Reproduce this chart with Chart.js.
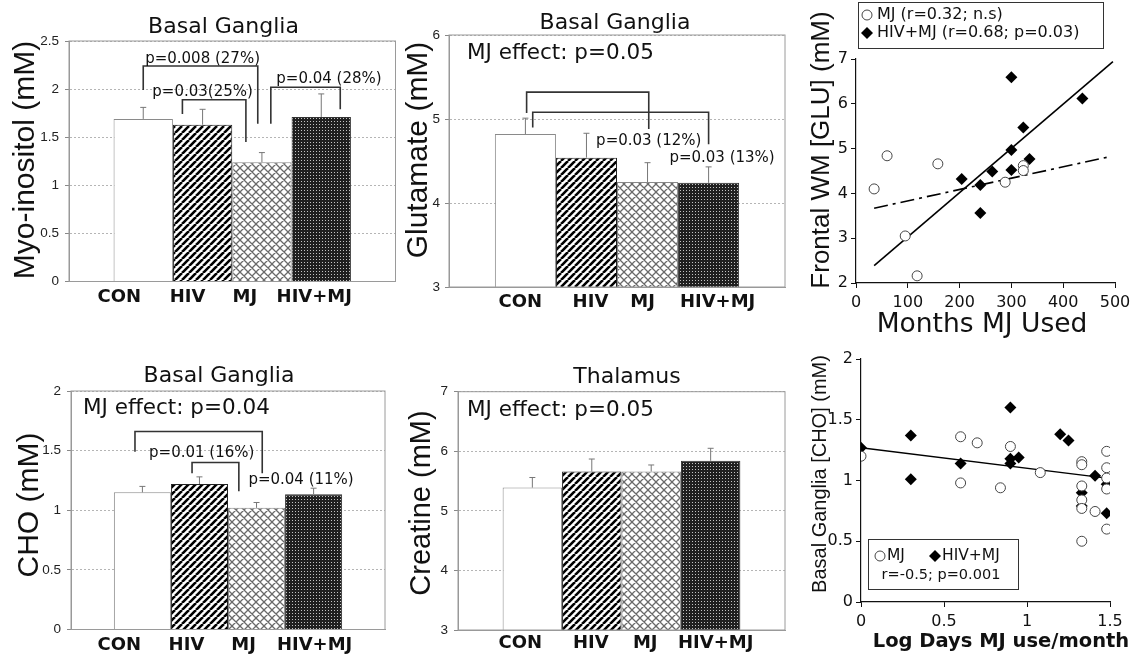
<!DOCTYPE html>
<html>
<head>
<meta charset="utf-8">
<script src="https://cdn.jsdelivr.net/npm/chart.js@4.4.1/dist/chart.umd.min.js"></script>
<style>
  html, body { margin: 0; padding: 0; background: #fff; }
  body { width: 1138px; height: 658px; position: relative; overflow: hidden; }
  canvas { position: absolute; }
</style>
</head>
<body>
<canvas id="myo" width="400" height="320" style="left:0;top:0"></canvas>
<canvas id="glu" width="390" height="320" style="left:400px;top:0"></canvas>
<canvas id="gluScatter" width="348" height="340" style="left:790px;top:0"></canvas>
<canvas id="cho" width="400" height="328" style="left:0;top:330px"></canvas>
<canvas id="cre" width="390" height="328" style="left:400px;top:330px"></canvas>
<canvas id="choScatter" width="348" height="328" style="left:790px;top:330px"></canvas>
<script>
// group bars: mean and top of the (upper only) error bar
const groups = ['CON', 'HIV', 'MJ', 'HIV+MJ'];
const myoMean = [1.69, 1.63, 1.24, 1.71];
const myoErr = [1.81, 1.79, 1.34, 1.95];
const gluMean = [4.82, 4.54, 4.25, 4.24];
const gluErr = [5.01, 4.83, 4.48, 4.43];
const choMean = [1.15, 1.22, 1.02, 1.135];
const choErr = [1.20, 1.28, 1.065, 1.185];
const creMean = [5.39, 5.66, 5.66, 5.84];
const creErr = [5.56, 5.87, 5.77, 6.05];

// frontal WM glutamate vs months of MJ use
const mjMonths = [35, 60, 95, 118, 158, 288, 323, 323];
const mjGlu = [4.10, 4.84, 3.05, 2.16, 4.66, 4.25, 4.62, 4.51];
const hivMonths = [204, 240, 240, 263, 300, 300, 300, 323, 335, 437];
const hivGlu = [4.32, 4.19, 3.56, 4.49, 4.97, 4.52, 6.59, 5.47, 4.77, 6.12];
const gluFitHivX = [35, 496];
const gluFitHivY = [2.39, 6.94];
const gluFitMjX = [35, 490];
const gluFitMjY = [3.67, 4.82];

// basal ganglia choline vs log days of use per month
const mjLogDays = [0, 0.6, 0.7, 0.6, 0.84, 0.9, 1.08, 1.33, 1.33, 1.33, 1.33, 1.33, 1.33, 1.41, 1.48, 1.48, 1.48, 1.48, 1.48];
const mjCho = [1.20, 1.36, 1.31, 0.98, 0.94, 1.28, 1.065, 1.155, 1.13, 0.955, 0.84, 0.77, 0.50, 0.745, 1.24, 1.105, 1.02, 0.93, 0.60];
const hivLogDays = [0, 0.3, 0.3, 0.6, 0.9, 0.9, 0.9, 0.95, 1.2, 1.25, 1.41, 1.33, 1.33, 1.48, 1.48];
const hivCho = [1.27, 1.37, 1.01, 1.14, 1.60, 1.18, 1.14, 1.19, 1.38, 1.33, 1.04, 0.90, 0.79, 0.97, 0.73];
const choFitX = [0, 1.48];
const choFitY = [1.27, 1.02];

// significance brackets: [from bar, y, to bar, y, top y] (bar units, data units)
const myoBrackets = [[0, 1.99, 1.93, 1.64, 2.24], [0.66, 1.74, 1.73, 1.45, 1.89], [2.15, 1.64, 3.32, 1.79, 2.02]];
const myoNotes = [['p=0.008 (27%)', 1.0, 2.31], ['p=0.03(25%)', 1.0, 1.97], ['p=0.04 (28%)', 3.13, 2.1]];
const gluBrackets = [[0.02, 5.07, 2.02, 4.88, 5.32], [0.12, 4.9, 3.0, 4.70, 5.08]];
const gluNotes = [['p=0.03 (12%)', 2.02, 4.74], ['p=0.03 (13%)', 3.22, 4.54]];
const choBrackets = [[-0.13, 1.49, 2.1, 1.31, 1.66], [0.87, 1.31, 1.69, 1.16, 1.40]];
const choNotes = [['p=0.01 (16%)', 1.04, 1.48], ['p=0.04 (11%)', 2.78, 1.255]];

const SANS = "'Liberation Sans', Arial, sans-serif";
const WIDE = "'DejaVu Sans', sans-serif";
Chart.defaults.font.family = SANS;
Chart.defaults.color = '#111';

function makePattern(kind) {
    const c = document.createElement('canvas');
    const g = c.getContext('2d');
    if (kind === 'stripe') {
        const s = 7;
        c.width = c.height = s;
        g.fillStyle = '#fff';
        g.fillRect(0, 0, s, s);
        g.strokeStyle = '#000';
        g.lineWidth = 2.6;
        g.beginPath();
        for (const k of [-s, 0, s]) { g.moveTo(k, s); g.lineTo(k + s, 0); }
        g.stroke();
    } else if (kind === 'hatch') {
        const s = 8;
        c.width = c.height = s;
        g.fillStyle = '#fff';
        g.fillRect(0, 0, s, s);
        g.strokeStyle = '#6a6a6a';
        g.lineWidth = 1.3;
        g.beginPath();
        for (const k of [-s, 0, s]) {
            g.moveTo(k, s); g.lineTo(k + s, 0);
            g.moveTo(k, 0); g.lineTo(k + s, s);
        }
        g.stroke();
    } else {
        c.width = c.height = 3;
        g.fillStyle = '#202020';
        g.fillRect(0, 0, 3, 3);
        g.fillStyle = '#c4c4c4';
        g.fillRect(1, 1, 1, 1);
    }
    return g.createPattern(c, 'repeat');
}

const fills = ['#fff', makePattern('stripe'), makePattern('hatch'), makePattern('dots')];
const edges = ['#8a8a8a', '#222', '#888', '#333'];
const plain = v => String(v);

function text(ctx, s, x, y, font, align) {
    ctx.font = font;
    ctx.fillStyle = '#111';
    ctx.textAlign = align || 'center';
    ctx.textBaseline = 'middle';
    ctx.fillText(s, x, y);
}

function vtext(ctx, s, x, y, font) {
    ctx.save();
    ctx.translate(x, y);
    ctx.rotate(-Math.PI / 2);
    text(ctx, s, 0, 0, font);
    ctx.restore();
}

function boxFit(size, horizontal) {
    return s => {
        if (horizontal) s.height = size; else s.width = size;
        s.paddingLeft = s.paddingRight = s.paddingTop = s.paddingBottom = 0;
    };
}

function barPanel(id, p) {
    const canvas = document.getElementById(id);
    const [L, T, R, B] = p.area;
    const decor = {
        id: 'barDecor',
        afterDatasetsDraw(chart) {
            const ctx = chart.ctx, y = chart.scales.y, a = chart.chartArea;
            const bar0 = chart.getDatasetMeta(0).data[0];
            const xAt = pos => bar0.x + pos * bar0.width;
            ctx.save();
            ctx.lineWidth = 1;
            ctx.strokeStyle = '#777';
            p.err.forEach((v, i) => {
                const el = chart.getDatasetMeta(i).data[0];
                const top = y.getPixelForValue(v);
                ctx.beginPath();
                ctx.moveTo(el.x, el.y);
                ctx.lineTo(el.x, top);
                ctx.moveTo(el.x - 3, top);
                ctx.lineTo(el.x + 3, top);
                ctx.stroke();
            });
            ctx.strokeStyle = '#9a9a9a';
            ctx.strokeRect(a.left, a.top, a.right - a.left, a.bottom - a.top);
            ctx.strokeStyle = '#333';
            ctx.lineWidth = 1.6;
            (p.brackets || []).forEach(([x1, y1, x2, y2, top]) => {
                const t = y.getPixelForValue(top);
                ctx.beginPath();
                ctx.moveTo(xAt(x1), y.getPixelForValue(y1));
                ctx.lineTo(xAt(x1), t);
                ctx.lineTo(xAt(x2), t);
                ctx.lineTo(xAt(x2), y.getPixelForValue(y2));
                ctx.stroke();
            });
            (p.notes || []).forEach(([s, pos, v]) => {
                text(ctx, s, xAt(pos), y.getPixelForValue(v), '15px ' + WIDE);
            });
            groups.forEach((g, i) => {
                const el = chart.getDatasetMeta(i).data[0];
                text(ctx, g, el.x + p.labelShift[i], p.labelY, 'bold 18px ' + WIDE);
            });
            text(ctx, p.title[0], p.title[1], p.title[2], '22px ' + WIDE);
            if (p.effect) text(ctx, p.effect[0], p.effect[1], p.effect[2], '21.5px ' + WIDE, 'left');
            vtext(ctx, p.ytitle[0], p.ytitle[1], p.ytitle[2], p.ytitle[3] + 'px ' + SANS);
            ctx.restore();
        }
    };
    return new Chart(canvas, {
        type: 'bar',
        data: {
            labels: [''],
            datasets: groups.map((g, i) => ({
                label: g,
                data: [p.mean[i]],
                backgroundColor: fills[i],
                borderColor: edges[i],
                borderWidth: 1,
                borderSkipped: 'start',
                barPercentage: 1,
                categoryPercentage: 0.727
            }))
        },
        options: {
            responsive: false,
            animation: false,
            layout: { padding: { left: 0, top: T, right: canvas.width - R, bottom: 0 } },
            plugins: { legend: { display: false }, tooltip: { enabled: false } },
            scales: {
                x: {
                    grid: { display: false },
                    border: { color: '#999' },
                    ticks: { display: false },
                    afterFit: boxFit(canvas.height - B, true)
                },
                y: {
                    min: p.min, max: p.max,
                    ticks: { stepSize: p.step, color: '#222', padding: p.tickPad, callback: plain, font: { size: 13.5, family: SANS } },
                    grid: { color: '#b5b5b5', tickLength: 4, tickColor: '#888' },
                    border: { color: '#999', dash: [2, 2] },
                    afterFit: boxFit(L, false)
                }
            }
        },
        plugins: [decor]
    });
}

function pts(xs, ys) {
    return xs.map((x, i) => ({ x: x, y: ys[i] }));
}

function circle(ctx, x, y, r) {
    ctx.beginPath();
    ctx.arc(x, y, r, 0, Math.PI * 2);
    ctx.fillStyle = '#fff';
    ctx.fill();
    ctx.strokeStyle = '#444';
    ctx.lineWidth = 1;
    ctx.stroke();
}

function diamond(ctx, x, y, r) {
    ctx.beginPath();
    ctx.moveTo(x, y - r);
    ctx.lineTo(x + r, y);
    ctx.lineTo(x, y + r);
    ctx.lineTo(x - r, y);
    ctx.closePath();
    ctx.fillStyle = '#000';
    ctx.fill();
}

function scatterPanel(id, p) {
    const canvas = document.getElementById(id);
    const [L, T, R, B] = p.area;
    const axis = (min, max, step, fitSize, horizontal) => ({
        type: 'linear', min: min, max: max,
        ticks: { stepSize: step, color: '#111', padding: horizontal ? 5 : 3, autoSkip: false, callback: plain, font: { size: 16, family: WIDE } },
        grid: { drawOnChartArea: false, tickLength: 5, color: '#111' },
        border: { color: '#111', width: 1.2 },
        afterFit: boxFit(fitSize, horizontal)
    });
    return new Chart(canvas, {
        type: 'scatter',
        data: { datasets: p.datasets },
        options: {
            responsive: false,
            animation: false,
            layout: { padding: { left: 0, top: T, right: canvas.width - R, bottom: 0 } },
            plugins: { legend: { display: false }, tooltip: { enabled: false } },
            scales: {
                x: axis(p.x[0], p.x[1], p.x[2], canvas.height - B, true),
                y: axis(p.y[0], p.y[1], p.y[2], L, false)
            }
        },
        plugins: [{ id: 'scatterDecor', afterDraw: chart => p.decor(chart.ctx) }]
    });
}

const openDot = { pointStyle: 'circle', backgroundColor: '#fff', borderColor: '#444', borderWidth: 1 };
const blackDiamond = { pointStyle: 'rectRot', backgroundColor: '#000', borderColor: '#000', borderWidth: 0 };

barPanel('myo', {
    area: [69, 41, 395.5, 281.5], min: 0, max: 2.5, step: 0.5, tickPad: 6,
    mean: myoMean, err: myoErr, brackets: myoBrackets, notes: myoNotes,
    labelY: 297, labelShift: [-24, -15, -17, -7],
    title: ['Basal Ganglia', 223.5, 27],
    ytitle: ['Myo-inositol (mM)', 26, 160, 30]
});

barPanel('glu', {
    area: [49, 35, 385, 287], min: 3, max: 6, step: 1, tickPad: 5,
    mean: gluMean, err: gluErr, brackets: gluBrackets, notes: gluNotes,
    labelY: 302, labelShift: [-5, 4, -5, 9],
    title: ['Basal Ganglia', 215, 23],
    effect: ['MJ effect: p=0.05', 67, 53],
    ytitle: ['Glutamate (mM)', 19, 150, 30]
});

barPanel('cho', {
    area: [71, 61, 385, 299.5], min: 0, max: 2, step: 0.5, tickPad: 6,
    mean: choMean, err: choErr, brackets: choBrackets, notes: choNotes,
    labelY: 315, labelShift: [-23, -13, -13, 1],
    title: ['Basal Ganglia', 219, 46],
    effect: ['MJ effect: p=0.04', 83, 78],
    ytitle: ['CHO (mM)', 30, 175, 30]
});

barPanel('cre', {
    area: [58, 61.7, 385, 300], min: 3, max: 7, step: 1, tickPad: 6,
    mean: creMean, err: creErr,
    labelY: 313, labelShift: [-12, -1, -6, 5],
    title: ['Thalamus', 227, 47],
    effect: ['MJ effect: p=0.05', 67, 80],
    ytitle: ['Creatine (mM)', 22, 173, 29]
});

scatterPanel('gluScatter', {
    area: [66, 59, 325, 283], x: [0, 500, 100], y: [2, 7, 1],
    datasets: [
        Object.assign({ label: 'MJ', data: pts(mjMonths, mjGlu), pointRadius: 5 }, openDot),
        Object.assign({ label: 'HIV+MJ', data: pts(hivMonths, hivGlu), pointRadius: 6 }, blackDiamond),
        { label: 'HIV+MJ fit', data: pts(gluFitHivX, gluFitHivY), showLine: true, pointRadius: 0, borderColor: '#000', borderWidth: 1.6 },
        { label: 'MJ fit', data: pts(gluFitMjX, gluFitMjY), showLine: true, pointRadius: 0, borderColor: '#000', borderWidth: 1.6, borderDash: [14, 5, 3, 5] }
    ],
    decor: ctx => {
        ctx.save();
        ctx.strokeStyle = '#333';
        ctx.lineWidth = 1;
        ctx.strokeRect(68.5, 2.5, 245, 46);
        circle(ctx, 77, 15, 5);
        diamond(ctx, 77, 33, 6);
        text(ctx, 'MJ (r=0.32; n.s)', 87, 15, '16px ' + WIDE, 'left');
        text(ctx, 'HIV+MJ (r=0.68; p=0.03)', 87, 33, '16px ' + WIDE, 'left');
        vtext(ctx, 'Frontal WM [GLU] (mM)', 32, 150, '26px ' + SANS);
        text(ctx, 'Months MJ Used', 192, 325, '26.5px ' + WIDE);
        ctx.restore();
    }
});

scatterPanel('choScatter', {
    area: [71, 29, 320, 272], x: [0, 1.5, 0.5], y: [0, 2, 0.5],
    datasets: [
        Object.assign({ label: 'MJ', data: pts(mjLogDays, mjCho), pointRadius: 5 }, openDot),
        Object.assign({ label: 'HIV+MJ', data: pts(hivLogDays, hivCho), pointRadius: 6 }, blackDiamond),
        { label: 'fit', data: pts(choFitX, choFitY), showLine: true, pointRadius: 0, borderColor: '#000', borderWidth: 1.4 }
    ],
    decor: ctx => {
        ctx.save();
        ctx.strokeStyle = '#333';
        ctx.lineWidth = 1;
        ctx.strokeRect(78.5, 209.5, 150, 50);
        circle(ctx, 90, 226, 5);
        text(ctx, 'MJ', 97, 226, '15.5px ' + WIDE, 'left');
        diamond(ctx, 145, 226, 6);
        text(ctx, 'HIV+MJ', 152, 226, '15.5px ' + WIDE, 'left');
        text(ctx, 'r=-0.5; p=0.001', 151, 245, '14.5px ' + WIDE);
        vtext(ctx, 'Basal Ganglia [CHO] (mM)', 30, 144, '20px ' + SANS);
        text(ctx, 'Log Days MJ use/month', 211, 312, 'bold 19.5px ' + WIDE);
        ctx.restore();
    }
});
</script>
</body>
</html>
